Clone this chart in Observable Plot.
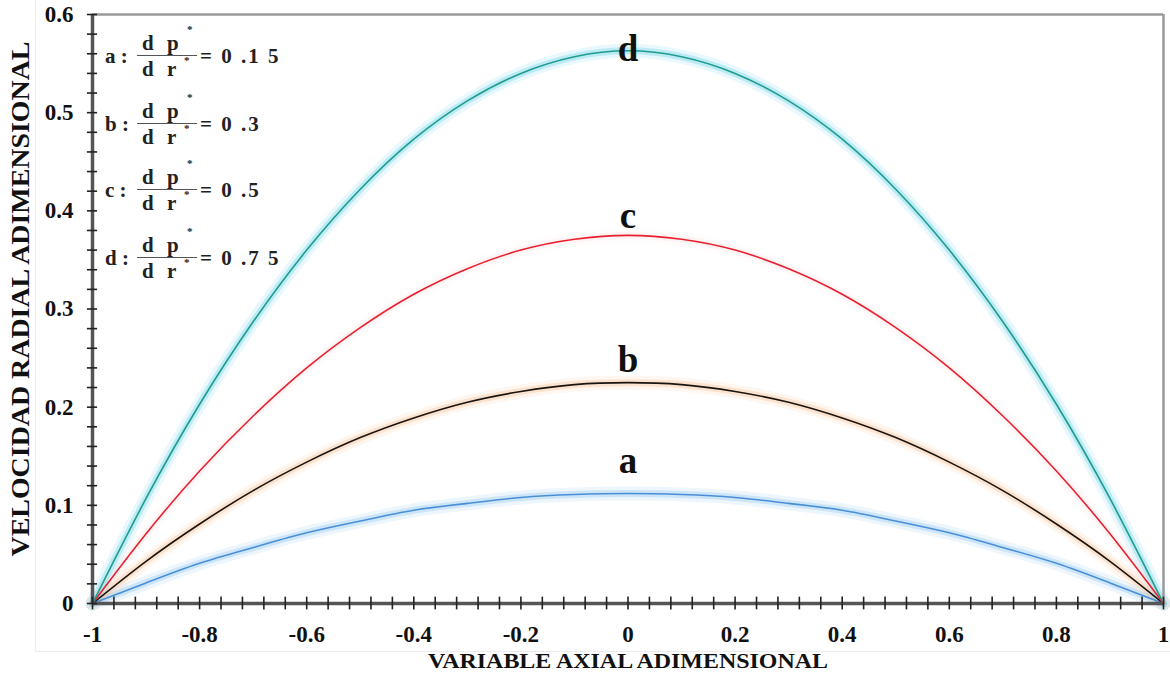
<!DOCTYPE html>
<html>
<head>
<meta charset="utf-8">
<script src="https://cdn.jsdelivr.net/npm/d3@7"></script>
<script src="https://cdn.jsdelivr.net/npm/@observablehq/plot@0.6"></script>
<style>
  html, body { margin: 0; padding: 0; background: #fff; }
  #wrap { position: relative; width: 1170px; height: 679px; overflow: hidden; }
  #outer { position: absolute; left: 35px; top: -2px; width: 1140px; height: 654px; border: 1px solid #ececec; box-sizing: border-box; }
  .leg { position: absolute; left: 105px; font-family: "Liberation Serif", "Times New Roman", serif; font-weight: bold; font-size: 21px; color: #222; display: flex; align-items: center; height: 60px; }
  .lab { width: 32px; }
  .frac { display: inline-flex; flex-direction: column; align-items: flex-start; width: 60px; position: relative; margin-right: 3px; }
  .num, .den { letter-spacing: 4px; padding-left: 5px; position: relative; line-height: 22px; width: 55px; box-sizing: content-box; }
  .num { border-bottom: 1.5px solid #555; padding-bottom: 1px; }
  .den { padding-top: 2px; }
  .star { position: absolute; font-size: 11px; letter-spacing: 0; line-height: 11px; }
  .num .star { left: 50px; top: -8px; }
  .den .star { left: 47px; top: -1px; }
  .val { letter-spacing: 2px; }
</style>
</head>
<body>
<div id="wrap"><div id="outer"></div></div>
<script>
// ---- data ----
const xValues = [-1, -0.9, -0.8, -0.7, -0.6, -0.5, -0.4, -0.3, -0.2, -0.1, 0, 0.1, 0.2, 0.3, 0.4, 0.5, 0.6, 0.7, 0.8, 0.9, 1];
const seriesA = [0, 0.021, 0.041, 0.057, 0.072, 0.084, 0.095, 0.102, 0.108, 0.111, 0.112, 0.111, 0.108, 0.102, 0.095, 0.084, 0.072, 0.057, 0.041, 0.021, 0];
const seriesB = [0, 0.043, 0.081, 0.115, 0.144, 0.169, 0.189, 0.205, 0.216, 0.223, 0.225, 0.223, 0.216, 0.205, 0.189, 0.169, 0.144, 0.115, 0.081, 0.043, 0];
const seriesC = [0, 0.071, 0.135, 0.191, 0.240, 0.281, 0.315, 0.341, 0.360, 0.371, 0.375, 0.371, 0.360, 0.341, 0.315, 0.281, 0.240, 0.191, 0.135, 0.071, 0];
const seriesD = [0, 0.107, 0.203, 0.287, 0.360, 0.422, 0.473, 0.512, 0.540, 0.557, 0.563, 0.557, 0.540, 0.512, 0.473, 0.422, 0.360, 0.287, 0.203, 0.107, 0];
const seriesNames = ["a", "b", "c", "d"];
const gradients = ["0 .1 5", "0 .3", "0 .5", "0 .7 5"];
const xTickLabels = [-1, -0.8, -0.6, -0.4, -0.2, 0, 0.2, 0.4, 0.6, 0.8, 1];
const yTickLabels = [0, 0.1, 0.2, 0.3, 0.4, 0.5, 0.6];
const xMinorTicks = d3.range(0, 51).map(i => -1 + i * 0.04);
const yMinorTicks = d3.range(0, 31).map(i => i * 0.02);
const xTitle = "VARIABLE AXIAL ADIMENSIONAL";
const yTitle = "VELOCIDAD RADIAL ADIMENSIONAL";

const lineColors = { a: "#4a8fd6", b: "#1a1410", c: "#e8202e", d: "#1f9c8c" };
const glowColors = { a: "#7fbdf0", b: "#f0a060", c: "#f7b0b8", d: "#5fd0e8" };
const glowOpacity = { a: 0.3, b: 0.22, c: 0.1, d: 0.32 };
const labelDy = { a: -32, b: -22, c: -19, d: -2 };

const allSeries = [seriesA, seriesB, seriesC, seriesD];
const rows = [];
seriesNames.forEach((s, k) => xValues.forEach((x, i) => rows.push({ s, x, y: allSeries[k][i] })));
const peaks = seriesNames.map((s, k) => ({ s, x: 0, y: d3.max(allSeries[k]) }));

const font = "'Liberation Serif', 'Times New Roman', serif";
const marks = [];
for (const s of seriesNames) {
  const data = rows.filter(r => r.s === s);
  marks.push(Plot.line(data, { x: "x", y: "y", curve: "natural", stroke: glowColors[s], strokeWidth: 14, strokeOpacity: glowOpacity[s] * 0.45 }));
  marks.push(Plot.line(data, { x: "x", y: "y", curve: "natural", stroke: glowColors[s], strokeWidth: 7, strokeOpacity: glowOpacity[s] }));
}
for (const s of seriesNames) {
  const data = rows.filter(r => r.s === s);
  marks.push(Plot.line(data, { x: "x", y: "y", curve: "natural", stroke: lineColors[s], strokeWidth: 1.6 }));
}
marks.push(Plot.ruleY([0.6], { stroke: "#9a9a9a", strokeWidth: 2.5 }));
marks.push(Plot.ruleX([1], { stroke: "#9a9a9a", strokeWidth: 2.5 }));
marks.push(Plot.ruleY([0], { stroke: "#555", strokeWidth: 3.5 }));
marks.push(Plot.ruleX([-1], { stroke: "#555", strokeWidth: 3.5 }));
marks.push(Plot.ruleX(xMinorTicks, { x: d => d, y1: -0.0065, y2: 0.0065, stroke: "#222", strokeWidth: 1.6 }));
marks.push(Plot.ruleY(yMinorTicks, { y: d => d, x1: -1.0095, x2: -0.9905, stroke: "#222", strokeWidth: 1.6 }));
marks.push(Plot.axisX(xTickLabels, { tickSize: 0, tickPadding: 22, fontSize: 23, fontWeight: "bold", label: null, tickFormat: d => String(d) }));
marks.push(Plot.axisY(yTickLabels, { tickSize: 0, tickPadding: 19, fontSize: 23, fontWeight: "bold", label: null, tickFormat: d => String(d) }));
marks.push(Plot.text([xTitle], { frameAnchor: "bottom", dy: 64, text: d => d, fontSize: 22, fontWeight: "bold", fill: "#111", className: "xtitle" }));
marks.push(Plot.text([yTitle], { frameAnchor: "left", textAnchor: "middle", dx: -72, dy: -10, rotate: -90, text: d => d, fontSize: 25, fontWeight: "bold", fill: "#111", className: "ytitle" }));
for (const p of peaks) {
  marks.push(Plot.text([p], { x: "x", y: "y", text: "s", dy: labelDy[p.s], fontSize: 37, fontWeight: "bold", fill: "#111" }));
}

const chart = Plot.plot({
  width: 1170,
  height: 679,
  marginLeft: 92,
  marginRight: 7,
  marginTop: 14,
  marginBottom: 76,
  x: { domain: [-1, 1], axis: null },
  y: { domain: [0, 0.6], axis: null },
  style: { fontFamily: font, background: "transparent", color: "#111", overflow: "visible" },
  marks
});
chart.style.position = "absolute";
chart.style.left = "0px";
chart.style.top = "0px";
const wrap = document.getElementById("wrap");
wrap.appendChild(chart);

// stretch titles to the lengths seen in the reference
d3.select(chart).selectAll("g.xtitle text").attr("textLength", 400).attr("lengthAdjust", "spacingAndGlyphs");
d3.select(chart).selectAll("g.ytitle text").attr("textLength", 515).attr("lengthAdjust", "spacingAndGlyphs");

// legend
const legendCenters = [56, 124, 190, 258];
seriesNames.forEach((s, k) => {
  const div = document.createElement("div");
  div.className = "leg";
  div.style.top = (legendCenters[k] - 30) + "px";
  div.innerHTML = `<span class="lab">${s} :</span><span class="frac"><span class="num">d p<span class="star">*</span></span><span class="den">d r<span class="star">*</span></span></span><span class="val">= ${gradients[k]}</span>`;
  wrap.appendChild(div);
});
</script>
</body>
</html>
